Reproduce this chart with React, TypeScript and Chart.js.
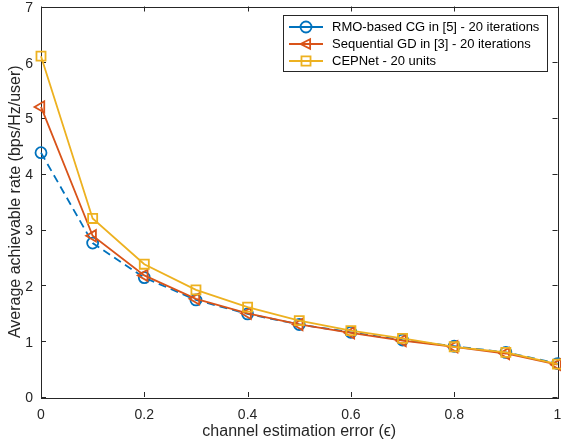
import React, { useEffect, useRef } from 'react';
import { Chart, registerables } from 'chart.js';

Chart.register(...registerables);

const xValues = [0, 0.1, 0.2, 0.3, 0.4, 0.5, 0.6, 0.7, 0.8, 0.9, 1];
const rmoCG = [4.38, 2.76, 2.14, 1.74, 1.49, 1.3, 1.16, 1.02, 0.91, 0.8, 0.6];
const seqGD = [5.2, 2.89, 2.18, 1.76, 1.5, 1.3, 1.15, 1.01, 0.9, 0.78, 0.58];
const cepNet = [6.11, 3.2, 2.38, 1.92, 1.61, 1.37, 1.19, 1.05, 0.9, 0.8, 0.59];
const xTicks = [0, 0.2, 0.4, 0.6, 0.8, 1];
const yTicks = [0, 1, 2, 3, 4, 5, 6, 7];
const seriesNames = [
  'RMO-based CG in [5] - 20 iterations',
  'Sequential GD in [3] - 20 iterations',
  'CEPNet - 20 units',
];
const xTitle = 'channel estimation error (\u03F5)';
const yTitle = 'Average achievable rate (bps/Hz/user)';

const BLUE = '#0072BD';
const RED = '#D95319';
const YELLOW = '#EDB120';
const AXIS = '#262626';
const FONT = '"Liberation Sans", Arial, Helvetica, sans-serif';

function drawMarker(ctx: CanvasRenderingContext2D, style: string, x: number, y: number, r: number) {
  ctx.beginPath();
  if (style === 'circle') {
    ctx.arc(x, y, r, 0, Math.PI * 2);
  } else if (style === 'triangle') {
    const h = r * 1.5;
    ctx.moveTo(x - h * 0.66, y);
    ctx.lineTo(x + h * 0.5, y - r * 0.87);
    ctx.lineTo(x + h * 0.5, y + r * 0.87);
    ctx.closePath();
  } else {
    const s = r * Math.SQRT1_2;
    ctx.rect(x - s, y - s, 2 * s, 2 * s);
  }
  ctx.stroke();
}

const boxPlugin = {
  id: 'matlabBox',
  beforeDatasetsDraw(chart: any) {
    const { ctx, chartArea } = chart;
    const { left, right, top, bottom } = chartArea;
    const xs = chart.scales.x;
    const ys = chart.scales.y;
    ctx.save();
    ctx.strokeStyle = AXIS;
    ctx.lineWidth = 1;
    ctx.beginPath();
    const tl = 5;
    xTicks.forEach((v) => {
      const px = Math.round(xs.getPixelForValue(v)) + 0.5;
      ctx.moveTo(px, bottom);
      ctx.lineTo(px, bottom - tl);
      ctx.moveTo(px, top);
      ctx.lineTo(px, top + tl);
    });
    yTicks.forEach((v) => {
      const py = Math.round(ys.getPixelForValue(v)) + 0.5;
      ctx.moveTo(left, py);
      ctx.lineTo(left + tl, py);
      ctx.moveTo(right, py);
      ctx.lineTo(right - tl, py);
    });
    ctx.stroke();
    ctx.strokeRect(Math.round(left) + 0.5, Math.round(top) + 0.5, Math.round(right - left), Math.round(bottom - top));
    ctx.restore();
  },
};

const legendPlugin = {
  id: 'matlabLegend',
  afterDraw(chart: any) {
    const { ctx } = chart;
    const bx = 283.5, by = 15.5, bw = 264, bh = 56;
    ctx.save();
    ctx.fillStyle = '#ffffff';
    ctx.fillRect(bx, by, bw, bh);
    ctx.strokeStyle = AXIS;
    ctx.lineWidth = 1;
    ctx.strokeRect(bx, by, bw, bh);
    const rows = [27, 44, 61];
    chart.data.datasets.forEach((ds: any, i: number) => {
      const y = rows[i];
      ctx.strokeStyle = ds.borderColor;
      ctx.lineWidth = 1.8;
      ctx.setLineDash([]);
      ctx.beginPath();
      ctx.moveTo(289, y);
      ctx.lineTo(323, y);
      ctx.stroke();
      drawMarker(ctx, ds.legendMarker, 306, y, ds.legendMarker === 'rect' ? 6.4 : 5.5);
      ctx.fillStyle = '#000000';
      ctx.font = `13px ${FONT}`;
      ctx.textBaseline = 'middle';
      ctx.textAlign = 'left';
      ctx.fillText(seriesNames[i], 332, y + 0.5);
    });
    ctx.restore();
  },
};

export default function App() {
  const ref = useRef<HTMLCanvasElement | null>(null);
  useEffect(() => {
    if (!ref.current) return;
    const mk = (arr: number[]) => xValues.map((x, i) => ({ x, y: arr[i] }));
    const chart = new Chart(ref.current, {
      type: 'line',
      data: {
        datasets: [
          {
            label: seriesNames[0],
            data: mk(rmoCG),
            borderColor: BLUE,
            backgroundColor: 'rgba(0,0,0,0)',
            borderWidth: 1.8,
            borderDash: [8, 5],
            pointStyle: 'circle',
            pointRadius: 5.5,
            pointBorderWidth: 1.8,
            pointBackgroundColor: 'rgba(0,0,0,0)',
            pointBorderColor: BLUE,
            order: 3,
            clip: false,
            legendMarker: 'circle',
          } as any,
          {
            label: seriesNames[1],
            data: mk(seqGD),
            borderColor: RED,
            backgroundColor: 'rgba(0,0,0,0)',
            borderWidth: 1.8,
            pointStyle: 'triangle',
            pointRotation: -90,
            pointRadius: 6.5,
            pointBorderWidth: 1.8,
            pointBackgroundColor: 'rgba(0,0,0,0)',
            pointBorderColor: RED,
            order: 2,
            clip: false,
            legendMarker: 'triangle',
          } as any,
          {
            label: seriesNames[2],
            data: mk(cepNet),
            borderColor: YELLOW,
            backgroundColor: 'rgba(0,0,0,0)',
            borderWidth: 1.8,
            pointStyle: 'rect',
            pointRadius: 6.4,
            pointBorderWidth: 1.8,
            pointBackgroundColor: 'rgba(0,0,0,0)',
            pointBorderColor: YELLOW,
            order: 1,
            clip: false,
            legendMarker: 'rect',
          } as any,
        ],
      },
      options: {
        animation: false,
        responsive: true,
        maintainAspectRatio: false,
        layout: { autoPadding: false, padding: { top: 6.5, right: 3.5, left: 0, bottom: 0 } },
        plugins: {
          legend: { display: false },
          tooltip: { enabled: false },
        },
        elements: { line: { tension: 0 } },
        scales: {
          x: {
            type: 'linear',
            min: 0,
            max: 1,
            grid: { display: false, drawTicks: false },
            border: { display: false },
            afterBuildTicks: (scale: any) => {
              scale.ticks = xTicks.map((v) => ({ value: v }));
            },
            afterFit: (scale: any) => {
              scale.height = 47;
              scale.paddingLeft = 0;
              scale.paddingRight = 0;
            },
            ticks: {
              color: AXIS,
              padding: 10,
              maxRotation: 0,
              font: { family: FONT, size: 14 },
              callback: (v: any) => String(v),
            },
            title: {
              display: true,
              text: xTitle,
              color: AXIS,
              font: { family: FONT, size: 16 },
              padding: { top: 0, bottom: 3 },
            },
          },
          y: {
            type: 'linear',
            min: 0,
            max: 7,
            grid: { display: false, drawTicks: false },
            border: { display: false },
            afterBuildTicks: (scale: any) => {
              scale.ticks = yTicks.map((v) => ({ value: v }));
            },
            afterFit: (scale: any) => {
              scale.width = 41;
              scale.paddingTop = 0;
              scale.paddingBottom = 0;
            },
            ticks: {
              color: AXIS,
              padding: 8,
              labelOffset: 1.5,
              font: { family: FONT, size: 14 },
              callback: (v: any) => String(v),
            },
            title: {
              display: true,
              text: yTitle,
              color: AXIS,
              font: { family: FONT, size: 16 },
              padding: { top: 6, bottom: 0 },
            },
          },
        },
      },
      plugins: [boxPlugin, legendPlugin],
    });
    return () => chart.destroy();
  }, []);
  return (
    <div style={{ position: 'absolute', left: 0, top: 0, width: 561, height: 444, background: '#fff' }}>
      <canvas ref={ref} />
    </div>
  );
}
